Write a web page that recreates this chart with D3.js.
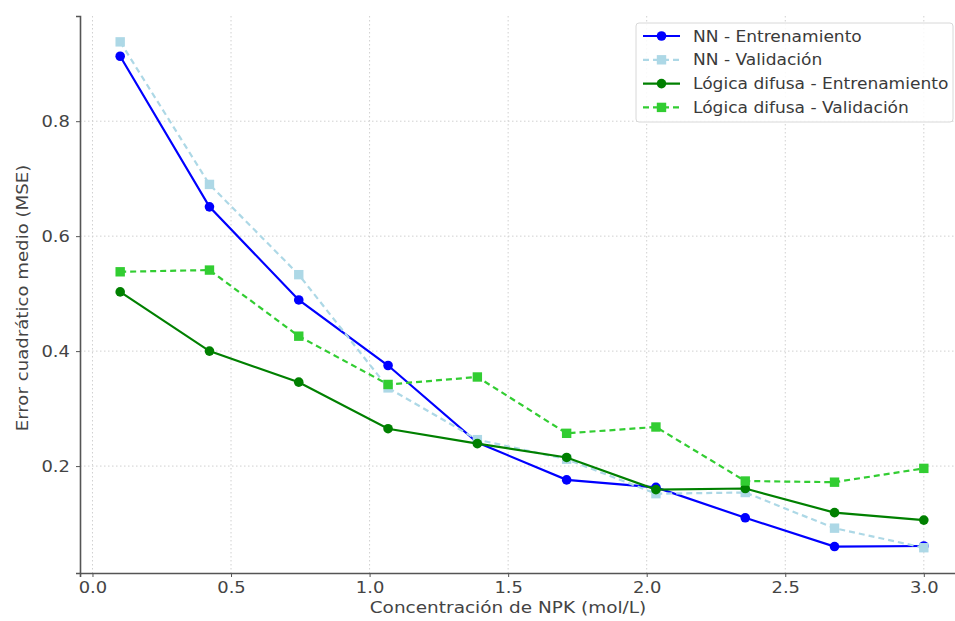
<!DOCTYPE html>
<html>
<head>
<meta charset="utf-8">
<script src="https://cdn.jsdelivr.net/npm/d3@7"></script>
<style>
  html, body { margin: 0; padding: 0; background: #fff; }
  svg { display: block; }
  text { font-family: "DejaVu Sans", sans-serif; }
</style>
</head>
<body>
<svg id="chart" width="955" height="621"></svg>
<script>
// Concentraciones evaluadas (mol/L)
const concentraciones = [0.1, 0.4222, 0.7444, 1.0667, 1.3889, 1.7111, 2.0333, 2.3556, 2.6778, 3.0];

// MSE por modelo
const nnEntrenamiento    = [0.913, 0.651, 0.489, 0.375, 0.241, 0.176, 0.163, 0.110, 0.060, 0.061];
const nnValidacion       = [0.938, 0.690, 0.533, 0.336, 0.246, 0.212, 0.152, 0.154, 0.092, 0.058];
const fuzzyEntrenamiento = [0.503, 0.400, 0.346, 0.265, 0.239, 0.215, 0.159, 0.161, 0.119, 0.106];
const fuzzyValidacion    = [0.538, 0.541, 0.426, 0.342, 0.355, 0.257, 0.268, 0.174, 0.172, 0.196];

const xTicks = [0.0, 0.5, 1.0, 1.5, 2.0, 2.5, 3.0];
const yTicks = [0.2, 0.4, 0.6, 0.8];

const series = [
  { name: "NN - Entrenamiento", values: nnEntrenamiento, color: "#0000ff", dash: null, marker: "circle" },
  { name: "NN - Validación", values: nnValidacion, color: "#add8e6", dash: "6,4", marker: "square" },
  { name: "Lógica difusa - Entrenamiento", values: fuzzyEntrenamiento, color: "#008000", dash: null, marker: "circle" },
  { name: "Lógica difusa - Validación", values: fuzzyValidacion, color: "#32cd32", dash: "6,4", marker: "square" }
];

const svg = d3.select("#chart");
const plotLeft = 80, plotBottom = 573, plotTop = 16, plotRight = 964;
const stretch = 1.12; // texto ligeramente ensanchado

const x = d3.scaleLinear().domain([-0.045, 3.145]).range([plotLeft, plotRight]);
const y = d3.scaleLinear().domain([0.014, 0.983]).range([plotBottom, plotTop]);

// Rejilla
const grid = svg.append("g").attr("stroke", "#d0d0d0").attr("stroke-width", 1).attr("stroke-dasharray", "1.5,2.5");
grid.selectAll("line.v").data(xTicks).join("line").attr("class", "v")
  .attr("x1", d => x(d)).attr("x2", d => x(d)).attr("y1", plotTop).attr("y2", plotBottom);
grid.selectAll("line.h").data(yTicks).join("line").attr("class", "h")
  .attr("y1", d => y(d)).attr("y2", d => y(d)).attr("x1", plotLeft).attr("x2", plotRight);

// Ejes
const xAxis = svg.append("g").attr("transform", `translate(0,${plotBottom})`)
  .call(d3.axisBottom(x).tickValues(xTicks).tickFormat(d3.format(".1f")).tickSize(4).tickPadding(5));
const yAxis = svg.append("g").attr("transform", `translate(${plotLeft},0)`)
  .call(d3.axisLeft(y).tickValues(yTicks).tickFormat(d3.format(".1f")).tickSize(4).tickPadding(5));
[xAxis, yAxis].forEach(a => {
  a.select(".domain").attr("stroke", "#555").attr("stroke-width", 1.6);
  a.selectAll(".tick line").attr("stroke", "#555");
  a.selectAll(".tick text").attr("fill", "#444").style("font-size", "16px")
    .style("font-family", "'DejaVu Sans', sans-serif")
    .attr("transform", `scale(${stretch},1)`);
});

// Títulos de los ejes
svg.append("text").attr("transform", `translate(508,613) scale(${stretch},1)`).attr("text-anchor", "middle")
  .attr("fill", "#444").style("font-size", "16.5px").text("Concentración de NPK (mol/L)");
svg.append("text").attr("transform", `translate(28,298) rotate(-90) scale(1.1,1)`).attr("text-anchor", "middle")
  .attr("fill", "#444").style("font-size", "16.5px").text("Error cuadrático medio (MSE)");

// Series
const line = d3.line().x((d, i) => x(concentraciones[i])).y(d => y(d));
function drawMarker(g, s, cx, cy) {
  if (s.marker === "circle") {
    g.append("circle").attr("cx", cx).attr("cy", cy).attr("r", 4.8).attr("fill", s.color);
  } else {
    g.append("rect").attr("x", cx - 4.7).attr("y", cy - 4.7).attr("width", 9.4).attr("height", 9.4).attr("fill", s.color);
  }
}
const plot = svg.append("g");
series.forEach(s => {
  const g = plot.append("g");
  g.append("path").datum(s.values).attr("d", line).attr("fill", "none")
    .attr("stroke", s.color).attr("stroke-width", 2.2).attr("stroke-dasharray", s.dash);
  s.values.forEach((v, i) => drawMarker(g, s, x(concentraciones[i]), y(v)));
});

// Leyenda
const lg = svg.append("g");
lg.append("rect").attr("x", 636).attr("y", 23).attr("width", 317).attr("height", 99).attr("rx", 3)
  .attr("fill", "rgba(255,255,255,0.85)").attr("stroke", "#d8d8d8");
series.forEach((s, i) => {
  const ry = 36 + i * 23.8;
  lg.append("line").attr("x1", 643).attr("x2", 680).attr("y1", ry).attr("y2", ry)
    .attr("stroke", s.color).attr("stroke-width", 2.2).attr("stroke-dasharray", s.dash);
  drawMarker(lg, s, 661.5, ry);
  lg.append("text").attr("transform", `translate(693,${ry + 5.5}) scale(1.1,1)`).attr("fill", "#3a3a3a")
    .style("font-size", "15.5px").text(s.name);
});
</script>
</body>
</html>
